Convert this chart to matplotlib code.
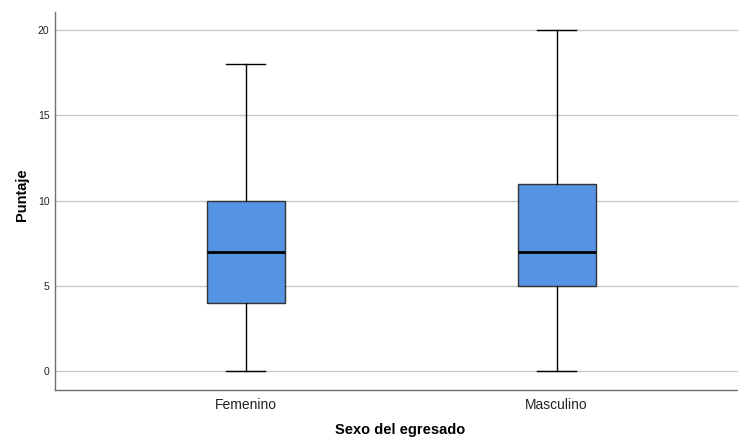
import matplotlib
matplotlib.use("Agg")
import matplotlib.pyplot as plt

categories = ["Femenino", "Masculino"]
whisker_low = [0, 0]
q1 = [4, 5]
medians = [7, 7]
q3 = [10, 11]
whisker_high = [18, 20]
yticks = [0, 5, 10, 15, 20]

plt.rcParams['font.family'] = ['Liberation Sans', 'DejaVu Sans']

fig = plt.figure(figsize=(7.38, 4.38), dpi=100)
ax = fig.add_axes([55/738, 48/438, 1 - 55/738, (390-12)/438])

stats = []
for i, c in enumerate(categories):
    stats.append(dict(label=c, whislo=whisker_low[i], q1=q1[i], med=medians[i],
                      q3=q3[i], whishi=whisker_high[i], fliers=[]))

ax.set_axisbelow(True)
ax.yaxis.grid(True, color="#c8c8c8", linewidth=1.0)
ax.bxp(stats, positions=[0, 1], widths=0.25, patch_artist=True, showfliers=False,
       boxprops=dict(facecolor="#5594e4", edgecolor="#333333", linewidth=1.0),
       medianprops=dict(color="black", linewidth=2.0),
       whiskerprops=dict(color="black", linewidth=1.0),
       capprops=dict(color="black", linewidth=1.0),
       capwidths=0.125)

ax.set_xlim(-0.613, 1.583)
ax.set_ylim(-1.11, 21.06)
ax.set_yticks(yticks)
ax.set_xticks([0, 1])
ax.set_xticklabels(categories, fontsize=10, color="#222222")
ax.tick_params(axis='y', labelsize=7.5, length=0, pad=4, colors="#222222")
ax.tick_params(axis='x', length=0, pad=6)
for s in ["top", "right"]:
    ax.spines[s].set_visible(False)
for s in ["left", "bottom"]:
    ax.spines[s].set_color("#707070")
    ax.spines[s].set_linewidth(1.0)

fig.text(22/738, 1 - 195/438, "Puntaje", fontsize=10.5, fontweight="bold",
         rotation=90, ha="center", va="center")
fig.text(400/738, 1 - 430/438, "Sexo del egresado", fontsize=10.5, fontweight="bold",
         ha="center", va="center")

fig.savefig("out.png", dpi=100)
